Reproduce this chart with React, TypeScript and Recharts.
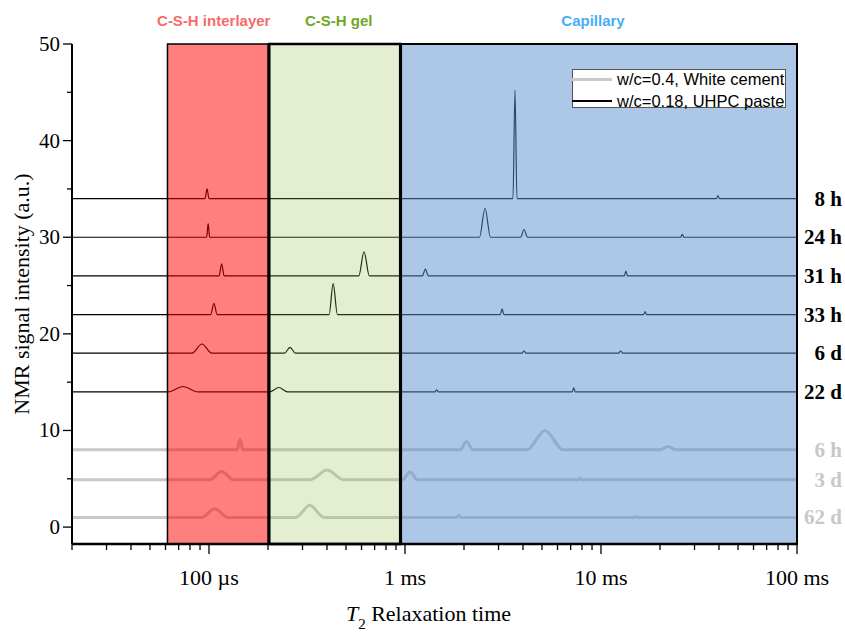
import React from 'react'
import {
  LineChart,
  Line,
  XAxis,
  YAxis,
  ReferenceArea,
  ReferenceLine,
  Legend,
} from 'recharts'

type Pt = [number, number]

// T2 (ms) and intensity, every trace already shifted onto its own baseline
const uhpc8h: Pt[] = [
  [0.02, 34], [0.0954, 34], [0.0977, 35], [0.1, 34],
  [3.555, 34], [3.64, 45.2], [3.727, 34],
  [38.8, 34], [39.5, 34.3], [40.2, 34], [100, 34],
]
const uhpc24h: Pt[] = [
  [0.02, 30], [0.0973, 30], [0.099, 31.4], [0.1008, 30],
  [2.4, 30], [2.56, 33.0], [2.73, 30],
  [3.89, 30], [4.05, 30.8], [4.22, 30],
  [25.5, 30], [26, 30.3], [26.5, 30], [100, 30],
]
const uhpc31h: Pt[] = [
  [0.02, 26], [0.1126, 26], [0.116, 27.25], [0.1195, 26],
  [0.581, 26], [0.618, 28.5], [0.658, 26],
  [1.226, 26], [1.27, 26.7], [1.316, 26],
  [13.16, 26], [13.4, 26.5], [13.64, 26], [100, 26],
]
const uhpc33h: Pt[] = [
  [0.02, 22], [0.102, 22], [0.106, 23.15], [0.11, 22],
  [0.41, 22], [0.43, 25.2], [0.452, 22],
  [3.065, 22], [3.13, 22.6], [3.195, 22],
  [16.5, 22], [16.8, 22.3], [17.1, 22], [100, 22],
]
const uhpc6d: Pt[] = [
  [0.02, 18], [0.0818, 18], [0.092, 18.95], [0.1035, 18],
  [0.243, 18], [0.259, 18.6], [0.276, 18],
  [3.96, 18], [4.05, 18.25], [4.15, 18],
  [12.3, 18], [12.6, 18.25], [12.9, 18], [100, 18],
]
const uhpc22d: Pt[] = [
  [0.02, 14], [0.0618, 14], [0.0737, 14.55], [0.0879, 14],
  [0.204, 14], [0.227, 14.45], [0.252, 14],
  [1.42, 14], [1.45, 14.2], [1.48, 14],
  [7.13, 14], [7.26, 14.4], [7.39, 14], [100, 14],
]

const wc6h: Pt[] = [
  [0.02, 8], [0.139, 8], [0.144, 9.1], [0.149, 8],
  [1.91, 8], [2.06, 8.85], [2.22, 8],
  [4.19, 8], [5.18, 10.0], [6.4, 8],
  [20.1, 8], [21.9, 8.35], [23.9, 8], [100, 8],
]
const wc3d: Pt[] = [
  [0.02, 4.9], [0.101, 4.9], [0.116, 5.75], [0.133, 4.9],
  [0.329, 4.9], [0.4, 5.9], [0.486, 4.9],
  [0.97, 4.9], [1.06, 5.7], [1.16, 4.9],
  [7.62, 4.9], [7.8, 5.05], [7.99, 4.9], [100, 4.9],
]
const wc62d: Pt[] = [
  [0.02, 1], [0.0918, 1], [0.107, 1.9], [0.1247, 1],
  [0.277, 1], [0.327, 2.25], [0.386, 1],
  [1.825, 1], [1.88, 1.2], [1.936, 1],
  [14.85, 1], [15.2, 1.1], [15.56, 1], [100, 1],
]

const uhpcTraces = [uhpc8h, uhpc24h, uhpc31h, uhpc33h, uhpc6d, uhpc22d]
const uhpcAges = ['8 h', '24 h', '31 h', '33 h', '6 d', '22 d']
const uhpcBaselines = [34, 30, 26, 22, 18, 14]

const wcTraces = [wc6h, wc3d, wc62d]
const wcAges = ['6 h', '3 d', '62 d']
const wcBaselines = [8, 4.9, 1]

const seriesNames = ['w/c=0.4, White cement', 'w/c=0.18, UHPC paste']

const regionNames = ['C-S-H interlayer', 'C-S-H gel', 'Capillary']
const regionFrom = [0.0614, 0.203, 0.955]
const regionTo = [0.2, 0.945, 100]

const xMajorTicks = [0.1, 1, 10, 100]
const xMajorLabels = ['100 µs', '1 ms', '10 ms', '100 ms']
const xMinorTicks = [
  0.02, 0.03, 0.04, 0.05, 0.06, 0.07, 0.08, 0.09,
  0.2, 0.3, 0.4, 0.5, 0.6, 0.7, 0.8, 0.9,
  2, 3, 4, 5, 6, 7, 8, 9,
  20, 30, 40, 50, 60, 70, 80, 90,
]
const yTicks = [0, 5, 10, 15, 20, 25, 30, 35, 40, 45, 50]

const X_DOMAIN: [number, number] = [0.02, 100]
const Y_DOMAIN: [number, number] = [-1.75, 50]

const serif = '"Liberation Serif", "Times New Roman", serif'
const sans = '"Liberation Sans", Arial, sans-serif'

const GRAY = '#c8c8c8'
const regionStyles = [
  { fill: '#ff0000', opacity: 0.5, stroke: 1.5, title: '#f76b6b', dx: -4 },
  { fill: '#93bf4b', opacity: 0.25, stroke: 2.5, title: '#6ea623', dx: 4 },
  { fill: '#5b91cd', opacity: 0.5, stroke: 2, title: '#45aef5', dx: -6 },
]

const xTicks = [...xMinorTicks, ...xMajorTicks].sort((a, b) => a - b)
const majorIndex = (v: number) => xMajorTicks.findIndex((m) => Math.abs(m - v) < 1e-9)
const toRows = (pts: Pt[]) => pts.map(([t, v]) => ({ t, v }))

function BottomTick(props: any) {
  const { x, y, payload } = props
  const i = majorIndex(payload.value)
  return (
    <g>
      <line x1={x} x2={x} y1={y} y2={y + (i >= 0 ? 10 : 6)} stroke="#000" strokeWidth={1.3} />
      {i >= 0 && (
        <text x={x} y={y + 41} textAnchor="middle" fontFamily={serif} fontSize={22} fill="#000">
          {xMajorLabels[i]}
        </text>
      )}
    </g>
  )
}

function TopTick(props: any) {
  const { x, y, payload } = props
  const i = majorIndex(payload.value)
  return <line x1={x} x2={x} y1={y} y2={y + (i >= 0 ? 10 : 6)} stroke="#000" strokeWidth={1.3} />
}

function LeftTick(props: any) {
  const { x, y, payload } = props
  const major = payload.value % 10 === 0
  return (
    <g>
      <line x1={x} x2={x - (major ? 9 : 5)} y1={y} y2={y} stroke="#000" strokeWidth={1.3} />
      {major && (
        <text x={x - 12} y={y + 7} textAnchor="end" fontFamily={serif} fontSize={21} fill="#000">
          {payload.value}
        </text>
      )}
    </g>
  )
}

function YTitle(props: any) {
  const vb = props.viewBox || {}
  const cx = (vb.x ?? 0) + 21
  const cy = (vb.y ?? 0) + (vb.height ?? 0) / 2
  return (
    <text
      x={cx}
      y={cy}
      transform={`rotate(-90, ${cx}, ${cy})`}
      textAnchor="middle"
      dominantBaseline="central"
      fontFamily={serif}
      fontSize={22}
      fill="#000"
    >
      NMR signal intensity (a.u.)
    </text>
  )
}

function XTitle(props: any) {
  const vb = props.viewBox || {}
  const cx = (vb.x ?? 0) + (vb.width ?? 0) / 2 - 6
  const y = (vb.y ?? 0) + 77
  return (
    <text x={cx} y={y} textAnchor="middle" fontFamily={serif} fontSize={22} fill="#000">
      <tspan fontStyle="italic">T</tspan>
      <tspan dy={8} fontSize={15}>2</tspan>
      <tspan dy={-8}> Relaxation time</tspan>
    </text>
  )
}

function sideLabel(text: string, color: string) {
  return (props: any) => {
    const vb = props.viewBox || {}
    const x = (vb.x ?? 0) + (vb.width ?? 0) + 45
    const y = (vb.y ?? 0) + 7
    return (
      <text x={x} y={y} textAnchor="end" fontFamily={serif} fontSize={21} fontWeight={700} fill={color}>
        {text}
      </text>
    )
  }
}

function regionTitle(text: string, color: string, dx: number) {
  return (props: any) => {
    const vb = props.viewBox || {}
    const x = (vb.x ?? 0) + (vb.width ?? 0) / 2 + dx
    const y = (vb.y ?? 0) - 18
    return (
      <text x={x} y={y} textAnchor="middle" fontFamily={sans} fontSize={15} fontWeight={700} fill={color}>
        {text}
      </text>
    )
  }
}

function LegendBox() {
  const samples = [
    { color: GRAY, width: 3 },
    { color: '#000', width: 1.2 },
  ]
  return (
    <div
      style={{
        position: 'relative',
        width: 214,
        height: 39,
        boxSizing: 'border-box',
        background: '#fff',
        border: '1px solid #555',
        fontFamily: sans,
        fontSize: 16.5,
        color: '#000',
      }}
    >
      {seriesNames.map((name, i) => (
        <div
          key={name}
          style={{
            position: 'absolute',
            left: -1,
            top: i === 0 ? -1 : 21,
            height: 20,
            display: 'flex',
            alignItems: 'center',
            whiteSpace: 'nowrap',
          }}
        >
          <span style={{ display: 'inline-block', width: 40, height: samples[i].width, background: samples[i].color }} />
          <span style={{ marginLeft: 5 }}>{name}</span>
        </div>
      ))}
    </div>
  )
}

export default function App() {
  return (
    <div style={{ width: 845, height: 634, background: '#fff' }}>
      <style>{'body{margin:0}'}</style>
      <LineChart width={845} height={634} margin={{ top: 44, right: 48, bottom: 0, left: 0 }}>
        <XAxis
          dataKey="t"
          type="number"
          scale="log"
          domain={X_DOMAIN}
          allowDataOverflow
          ticks={xTicks}
          interval={0}
          tickSize={0}
          tickMargin={0}
          tickLine={false}
          tick={<BottomTick />}
          axisLine={{ stroke: '#000', strokeWidth: 2.5 }}
          height={90}
          label={<XTitle />}
        />
        <XAxis
          xAxisId="top"
          orientation="top"
          type="number"
          scale="log"
          domain={X_DOMAIN}
          allowDataOverflow
          ticks={xTicks}
          interval={0}
          mirror
          height={0}
          tickSize={0}
          tickMargin={0}
          tickLine={false}
          tick={<TopTick />}
          axisLine={{ stroke: '#000', strokeWidth: 2 }}
        />
        <YAxis
          type="number"
          domain={Y_DOMAIN}
          allowDataOverflow
          ticks={yTicks}
          interval={0}
          tickSize={0}
          tickMargin={0}
          tickLine={false}
          tick={<LeftTick />}
          axisLine={{ stroke: '#000', strokeWidth: 2 }}
          width={72}
          label={<YTitle />}
        />
        <YAxis
          yAxisId="r"
          orientation="right"
          type="number"
          domain={Y_DOMAIN}
          allowDataOverflow
          width={0}
          tick={false}
          tickLine={false}
          axisLine={{ stroke: '#000', strokeWidth: 2 }}
        />

        {wcTraces.map((pts, i) => (
          <Line
            key={wcAges[i]}
            data={toRows(pts)}
            dataKey="v"
            name={seriesNames[0]}
            type="monotone"
            stroke={GRAY}
            strokeWidth={3}
            dot={false}
            activeDot={false}
            isAnimationActive={false}
          />
        ))}
        {uhpcTraces.map((pts, i) => (
          <Line
            key={uhpcAges[i]}
            data={toRows(pts)}
            dataKey="v"
            name={seriesNames[1]}
            type="monotone"
            stroke="#000"
            strokeWidth={1.2}
            dot={false}
            activeDot={false}
            isAnimationActive={false}
          />
        ))}

        {regionNames.map((name, i) => (
          <ReferenceArea
            key={name}
            x1={regionFrom[i]}
            x2={regionTo[i]}
            fill={regionStyles[i].fill}
            fillOpacity={regionStyles[i].opacity}
            stroke="#000"
            strokeWidth={regionStyles[i].stroke}
            zIndex={450}
            label={regionTitle(name, regionStyles[i].title, regionStyles[i].dx)}
          />
        ))}

        {uhpcBaselines.map((b, i) => (
          <ReferenceLine
            key={'u' + uhpcAges[i]}
            y={b}
            stroke="#000"
            strokeOpacity={0}
            label={sideLabel(uhpcAges[i], '#000')}
          />
        ))}
        {wcBaselines.map((b, i) => (
          <ReferenceLine
            key={'w' + wcAges[i]}
            y={b}
            stroke="#000"
            strokeOpacity={0}
            label={sideLabel(wcAges[i], GRAY)}
          />
        ))}

        <Legend
          layout="horizontal"
          verticalAlign="middle"
          align="center"
          content={<LegendBox />}
          wrapperStyle={{ left: 572, top: 69, width: 'auto', height: 'auto' }}
        />
      </LineChart>
    </div>
  )
}
